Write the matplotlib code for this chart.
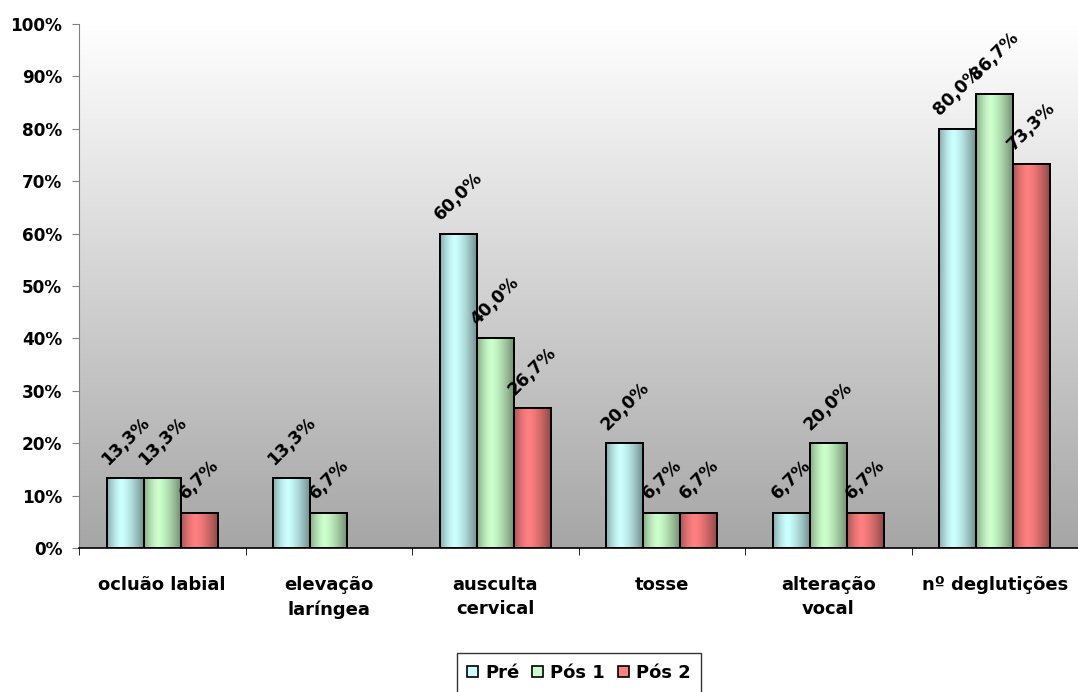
import numpy as np
import matplotlib
matplotlib.use("Agg")
import matplotlib.pyplot as plt
from matplotlib.patches import Patch
from matplotlib.colors import to_rgb

# Data
categories = ["ocluão labial", "elevação\nlaríngea", "ausculta\ncervical",
              "tosse", "alteração\nvocal", "nº deglutições"]
series_names = ["Pré", "Pós 1", "Pós 2"]
pre = [13.3, 13.3, 60.0, 20.0, 6.7, 80.0]
pos1 = [13.3, 6.7, 40.0, 6.7, 20.0, 86.7]
pos2 = [6.7, 0.0, 26.7, 6.7, 6.7, 73.3]
y_ticks = list(range(0, 101, 10))

series = [pre, pos1, pos2]
colors = ["#ccffff", "#ccffcc", "#ff8080"]

plt.rcParams["font.family"] = ["DejaVu Sans"]

fig = plt.figure(figsize=(10.78, 6.92), dpi=100)
ax = fig.add_axes([79 / 1078, 1 - 548 / 692, 1 - 79 / 1078, (548 - 24) / 692])

n = len(categories)
x = np.arange(n)
width = 0.222

# Plot-area background: vertical white-to-grey gradient
grad = np.linspace(0, 1, 256).reshape(-1, 1)
top_c = np.array([1.0, 1.0, 1.0])
bot_c = np.array(to_rgb("#a6a6a6"))
bg = top_c * (1 - grad[..., None]) + bot_c * grad[..., None]
ax.imshow(bg, extent=[0, 1, 0, 1], transform=ax.transAxes, aspect="auto",
          zorder=0, origin="upper")

# Horizontal cylinder shading profile for the bars
t = np.linspace(0, 1, 128)
shade = np.where(t < 0.4, 1 - 0.34 * ((0.4 - t) / 0.4) ** 1.6,
                 1 - 0.44 * ((t - 0.4) / 0.6) ** 1.4)

for i, (vals, col) in enumerate(zip(series, colors)):
    offs = (i - 1) * width
    bars = ax.bar(x + offs, vals, width, color=col, edgecolor="black",
                  linewidth=1.4, zorder=2)
    base = np.array(to_rgb(col))
    img = np.clip(base[None, None, :] * shade[None, :, None], 0, 1)
    for b, v in zip(bars, vals):
        if v <= 0:
            b.set_visible(False)
            continue
        x0 = b.get_x()
        im = ax.imshow(img, extent=[x0, x0 + width, 0, v], aspect="auto",
                       zorder=2.5, interpolation="bilinear")
        im.set_clip_path(b)
        ax.bar(x0 + width / 2, v, width, facecolor="none", edgecolor="black",
               linewidth=1.4, zorder=3)
        ax.annotate(f"{v:.1f}%".replace(".", ","), (x0 + width / 2, v),
                    xytext=(0, 7), textcoords="offset points",
                    ha="center", va="bottom", rotation=45,
                    fontsize=12.5, fontweight="bold", color="black",
                    zorder=4)

ax.set_xlim(-0.5, n - 0.5)
ax.set_ylim(0, 100)

# Axes styling
for s in ("top", "right"):
    ax.spines[s].set_visible(False)
ax.spines["left"].set_color("#808080")
ax.spines["bottom"].set_color("black")
ax.spines["bottom"].set_linewidth(1.2)

ax.set_yticks(y_ticks)
ax.set_yticklabels([f"{v}%" for v in y_ticks], fontsize=12.2, fontweight="bold")
ax.tick_params(axis="y", length=5, color="#808080", pad=7)

ax.set_xticks(x)
ax.set_xticklabels(categories, fontsize=13, fontweight="bold", linespacing=1.45)
ax.tick_params(axis="x", which="major", length=0, pad=20)
ax.set_xticks(np.arange(-0.5, n, 1.0), minor=True)
ax.tick_params(axis="x", which="minor", length=5, color="black")

# Legend
handles = [Patch(facecolor=c, edgecolor="black", linewidth=1.2) for c in colors]
leg = fig.legend(handles, series_names, loc="upper center",
                 bbox_to_anchor=(579 / 1078, 1 - 653 / 692), ncol=3,
                 frameon=True, fancybox=False, handlelength=0.6,
                 handleheight=0.6, handletextpad=0.4, columnspacing=0.7,
                 borderpad=0.6, borderaxespad=0,
                 prop={"size": 13, "weight": "bold"})
leg.get_frame().set_edgecolor("black")
leg.get_frame().set_linewidth(1.0)

fig.savefig("out.png", dpi=100)
